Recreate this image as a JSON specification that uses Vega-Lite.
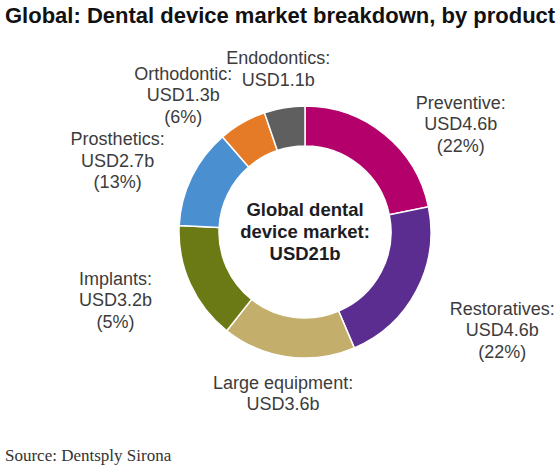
{
  "$schema": "https://vega.github.io/schema/vega-lite/v6.json",
  "autosize": "none",
  "width": 510,
  "height": 384,
  "padding": {"left": 50, "top": 40, "right": 0, "bottom": 48},
  "background": "white",
  "title": {
    "text": "Global: Dental device market breakdown, by product",
    "subtitle": "Source: Dentsply Sirona",
    "anchor": "start",
    "frame": "group",
    "dx": -45,
    "offset": -425,
    "font": "Liberation Sans",
    "fontSize": 22,
    "fontWeight": "bold",
    "color": "#111111",
    "subtitleFont": "Liberation Serif",
    "subtitleFontSize": 17,
    "subtitleColor": "#333333",
    "subtitlePadding": 420
  },
  "data": {
    "values": [
      {"rank": 1, "product": "Preventive", "value": 4.6, "label": "Preventive:\nUSD4.6b\n(22%)"},
      {"rank": 2, "product": "Restoratives", "value": 4.6, "label": "Restoratives:\nUSD4.6b\n(22%)"},
      {"rank": 3, "product": "Large equipment", "value": 3.6, "label": "Large equipment:\nUSD3.6b"},
      {"rank": 4, "product": "Implants", "value": 3.2, "label": "Implants:\nUSD3.2b\n(5%)"},
      {"rank": 5, "product": "Prosthetics", "value": 2.7, "label": "Prosthetics:\nUSD2.7b\n(13%)"},
      {"rank": 6, "product": "Orthodontic", "value": 1.3, "label": "Orthodontic:\nUSD1.3b\n(6%)"},
      {"rank": 7, "product": "Endodontics", "value": 1.1, "label": "Endodontics:\nUSD1.1b"}
    ]
  },
  "layer": [
    {
      "mark": {"type": "arc", "innerRadius": 86, "outerRadius": 126, "stroke": "white", "strokeWidth": 1.5},
      "encoding": {
        "theta": {"field": "value", "type": "quantitative", "stack": true},
        "order": {"field": "rank", "type": "quantitative"},
        "color": {
          "field": "product",
          "type": "nominal",
          "scale": {
            "domain": ["Preventive", "Restoratives", "Large equipment", "Implants", "Prosthetics", "Orthodontic", "Endodontics"],
            "range": ["#b3006b", "#5c2d91", "#c4ae6b", "#6b7a14", "#4a90d0", "#e57b27", "#5f5f5f"]
          },
          "legend": null
        }
      }
    },
    {
      "mark": {
        "type": "text",
        "radius": 164,
        "font": "Liberation Sans",
        "fontSize": 18,
        "lineHeight": 21.5,
        "lineBreak": "\n",
        "color": "#3c3c3c",
        "align": "center",
        "baseline": "middle",
        "dy": {"expr": "-9 + 12 * sin(scale('theta', (datum.value_start + datum.value_end) / 2))"},
        "dx": {"expr": "sin(scale('theta', (datum.value_start + datum.value_end) / 2)) > 0.3 ? 52 : (sin(scale('theta', (datum.value_start + datum.value_end) / 2)) < -0.3 ? -40 : 0)"}
      },
      "encoding": {
        "theta": {"field": "value", "type": "quantitative", "stack": true},
        "order": {"field": "rank", "type": "quantitative"},
        "detail": {"field": "product", "type": "nominal"},
        "text": {"field": "label", "type": "nominal"}
      }
    },
    {
      "data": {"values": [{"center": "Global dental\ndevice market:\nUSD21b"}]},
      "mark": {
        "type": "text",
        "font": "Liberation Sans",
        "fontSize": 18.5,
        "fontWeight": "bold",
        "lineHeight": 22,
        "lineBreak": "\n",
        "dy": -22,
        "color": "#1c1c24"
      },
      "encoding": {
        "text": {"field": "center", "type": "nominal"}
      }
    }
  ]
}
